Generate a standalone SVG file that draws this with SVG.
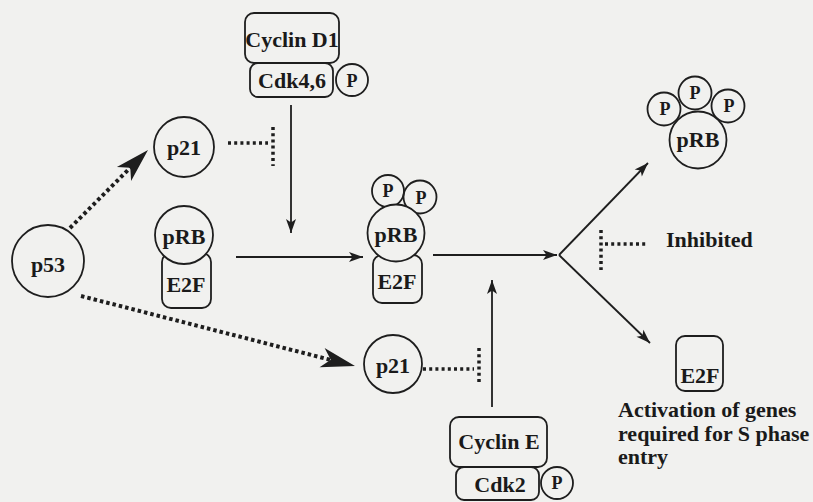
<svg xmlns="http://www.w3.org/2000/svg" width="813" height="502" viewBox="0 0 813 502">
<style>
  .bg { fill: #f1f1ef; }
  .shape { fill: none; stroke: #1e1e1e; stroke-width: 1.8; }
  .cover { fill: #f1f1ef; stroke: #1e1e1e; stroke-width: 1.8; }
  .lbl { font-family: "Liberation Serif", "Times New Roman", serif; font-weight: bold; font-size: 22px; fill: #1a1a1a; text-anchor: middle; }
  .p { font-size: 18px; }
  .note { text-anchor: start; }
  .solid { fill: none; stroke: #1e1e1e; stroke-width: 1.8; }
  .dotted { fill: none; stroke: #1e1e1e; stroke-width: 4; stroke-dasharray: 3.5 3; }
  .inh { fill: none; stroke: #1e1e1e; stroke-width: 3.5; stroke-dasharray: 3 3.2; }
  .head { fill: #1e1e1e; }
</style>
<defs>
  <marker id="arrow" markerUnits="userSpaceOnUse" markerWidth="16" markerHeight="12" viewBox="-15 -6 16 12" refX="0" refY="0" orient="auto">
    <path d="M0,0 L-14,-5 L-10.5,0 L-14,5 Z" fill="#1e1e1e"/>
  </marker>
</defs>
<rect class="bg" x="0" y="0" width="813" height="502"/>

<g id="connectors">
  <line class="dotted" x1="70" y1="228" x2="131" y2="167"/>
  <path class="head" d="M148,150 L116.9,166.9 L130.3,167.7 L131.1,181.1 Z"/>
  <line class="dotted" x1="81" y1="296" x2="331" y2="360"/>
  <path class="head" d="M355,366 L324.6,347.9 L330.8,359.8 L319.6,367.3 Z"/>
  <line class="inh" x1="228" y1="143" x2="268" y2="143"/>
  <line class="inh" x1="273" y1="127" x2="273" y2="166"/>
  <line class="solid" x1="291" y1="105" x2="291" y2="233" marker-end="url(#arrow)"/>
  <line class="solid" x1="236" y1="257" x2="363" y2="257" marker-end="url(#arrow)"/>
  <line class="solid" x1="433" y1="255" x2="557" y2="255" marker-end="url(#arrow)"/>
  <line class="solid" x1="559" y1="255" x2="648" y2="163" marker-end="url(#arrow)"/>
  <line class="solid" x1="559" y1="255" x2="650" y2="343" marker-end="url(#arrow)"/>
  <line class="solid" x1="492" y1="407" x2="492" y2="280" marker-end="url(#arrow)"/>
  <line class="inh" x1="423" y1="369" x2="474" y2="369"/>
  <line class="inh" x1="479" y1="348" x2="479" y2="385"/>
  <line class="inh" x1="601" y1="230" x2="601" y2="270"/>
  <line class="inh" x1="605" y1="244" x2="648" y2="244"/>
</g>

<g id="cyclinD1">
  <rect class="shape" x="245" y="13" width="94" height="50" rx="9"/>
  <text class="lbl" x="292" y="47">Cyclin D1</text>
</g>
<g id="cdk46">
  <rect class="shape" x="250" y="63" width="83" height="34" rx="8"/>
  <text class="lbl" x="292" y="88">Cdk4,6</text>
  <circle class="shape" cx="352" cy="80" r="16"/>
  <text class="lbl p" x="352" y="87">P</text>
</g>
<g id="p53">
  <circle class="shape" cx="48" cy="261" r="36"/>
  <text class="lbl" x="48" y="272">p53</text>
</g>
<g id="p21top">
  <circle class="shape" cx="184" cy="147" r="30"/>
  <text class="lbl" x="184" y="155">p21</text>
</g>
<g id="pRB-E2F">
  <rect class="shape" x="162" y="253" width="49" height="55" rx="9"/>
  <circle class="cover" cx="184" cy="235" r="29"/>
  <text class="lbl" x="184" y="244">pRB</text>
  <text class="lbl" x="186" y="292">E2F</text>
</g>
<g id="pRB-E2F-P">
  <rect class="shape" x="373" y="255" width="49" height="48" rx="9"/>
  <circle class="shape" cx="388" cy="191" r="16"/>
  <circle class="shape" cx="420" cy="197" r="16.5"/>
  <circle class="cover" cx="396" cy="233" r="28.5"/>
  <text class="lbl p" x="388" y="197">P</text>
  <text class="lbl p" x="421" y="204">P</text>
  <text class="lbl" x="396" y="242">pRB</text>
  <text class="lbl" x="397" y="289">E2F</text>
</g>
<g id="pRB-PPP">
  <circle class="shape" cx="664" cy="109" r="16.5"/>
  <circle class="shape" cx="695" cy="93" r="16.5"/>
  <circle class="shape" cx="728" cy="106" r="16.5"/>
  <circle class="cover" cx="698" cy="140" r="28.5"/>
  <text class="lbl p" x="665" y="115">P</text>
  <text class="lbl p" x="695" y="99">P</text>
  <text class="lbl p" x="729" y="112">P</text>
  <text class="lbl" x="698" y="147">pRB</text>
</g>
<g id="inhibited">
  <text class="lbl note" x="666" y="247">Inhibited</text>
</g>
<g id="E2F-free">
  <rect class="shape" x="676" y="336" width="47" height="55" rx="9"/>
  <text class="lbl" x="700" y="383">E2F</text>
</g>
<g id="activation">
  <text class="lbl note" x="618" y="417">Activation of genes</text>
  <text class="lbl note" x="618" y="441">required for S phase</text>
  <text class="lbl note" x="618" y="464">entry</text>
</g>
<g id="p21bottom">
  <circle class="shape" cx="393" cy="364" r="29"/>
  <text class="lbl" x="393" y="373">p21</text>
</g>
<g id="cyclinE">
  <rect class="shape" x="450" y="417" width="97" height="50" rx="9"/>
  <text class="lbl" x="499" y="449">Cyclin E</text>
</g>
<g id="cdk2">
  <rect class="shape" x="456" y="467" width="83" height="33" rx="8"/>
  <text class="lbl" x="500" y="492">Cdk2</text>
  <circle class="shape" cx="557" cy="483" r="16"/>
  <text class="lbl p" x="557" y="489">P</text>
</g>
</svg>
